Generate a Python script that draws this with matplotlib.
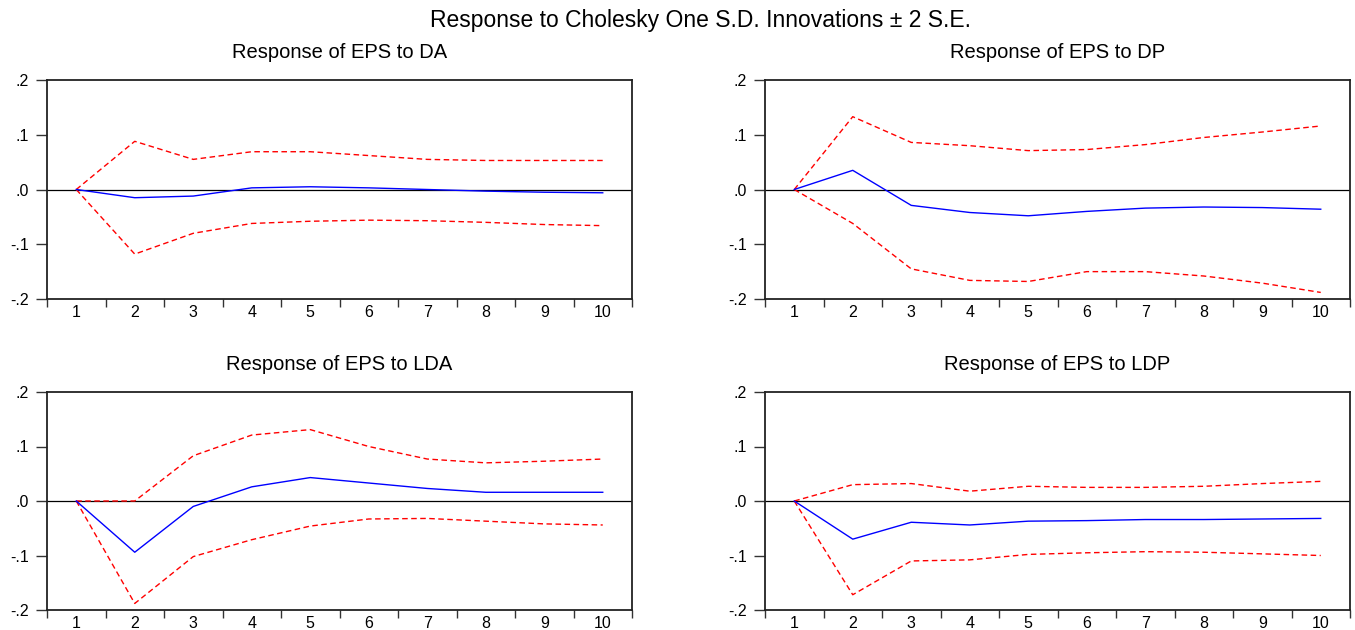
import matplotlib
matplotlib.use("Agg")
import matplotlib.pyplot as plt
import numpy as np

plt.rcParams['font.family'] = ['Liberation Sans', 'DejaVu Sans']

periods = [1, 2, 3, 4, 5, 6, 7, 8, 9, 10]

titles = ["Response of EPS to DA", "Response of EPS to DP",
          "Response of EPS to LDA", "Response of EPS to LDP"]

da_resp = [0.0, -0.015, -0.012, 0.003, 0.005, 0.003, 0.0, -0.003, -0.005, -0.006]
da_upper = [0.0, 0.088, 0.055, 0.069, 0.069, 0.062, 0.055, 0.053, 0.053, 0.053]
da_lower = [0.0, -0.118, -0.080, -0.062, -0.058, -0.056, -0.057, -0.060, -0.064, -0.066]

dp_resp = [0.0, 0.035, -0.029, -0.042, -0.048, -0.040, -0.034, -0.032, -0.033, -0.036]
dp_upper = [0.0, 0.133, 0.086, 0.080, 0.071, 0.073, 0.082, 0.095, 0.105, 0.116]
dp_lower = [0.0, -0.062, -0.145, -0.166, -0.168, -0.150, -0.150, -0.158, -0.171, -0.188]

lda_resp = [0.0, -0.094, -0.010, 0.026, 0.043, 0.033, 0.023, 0.016, 0.016, 0.016]
lda_upper = [0.0, 0.0, 0.083, 0.121, 0.131, 0.100, 0.077, 0.070, 0.073, 0.077]
lda_lower = [0.0, -0.188, -0.102, -0.071, -0.046, -0.033, -0.032, -0.037, -0.042, -0.044]

ldp_resp = [0.0, -0.070, -0.039, -0.044, -0.037, -0.036, -0.034, -0.034, -0.033, -0.032]
ldp_upper = [0.0, 0.030, 0.032, 0.018, 0.027, 0.025, 0.025, 0.027, 0.032, 0.036]
ldp_lower = [0.0, -0.172, -0.110, -0.108, -0.098, -0.095, -0.093, -0.094, -0.097, -0.100]

panels = [(da_resp, da_upper, da_lower), (dp_resp, dp_upper, dp_lower),
          (lda_resp, lda_upper, lda_lower), (ldp_resp, ldp_upper, ldp_lower)]

yticks = [-0.2, -0.1, 0.0, 0.1, 0.2]
yticklabels = ["-.2", "-.1", ".0", ".1", ".2"]

W, H = 1355, 630
fig = plt.figure(figsize=(W / 100, H / 100), dpi=100)

# axes boxes in pixels: (left, top, right, bottom)
boxes = [(47, 80, 632, 299), (765, 80, 1350, 299),
         (47, 392, 632, 610), (765, 392, 1350, 610)]

for (l, t, r, b), title, (resp, up, lo) in zip(boxes, titles, panels):
    ax = fig.add_axes([l / W, 1 - b / H, (r - l) / W, (b - t) / H])
    ax.axhline(0, color='black', lw=0.9, zorder=1)
    ax.plot(periods, resp, color='#0000ff', lw=1.0, zorder=3)
    ax.plot(periods, up, color='#ff0000', lw=1.0, ls=(0, (4, 2.5)), zorder=2)
    ax.plot(periods, lo, color='#ff0000', lw=1.0, ls=(0, (4, 2.5)), zorder=2)
    ax.set_xlim(0.5, 10.5)
    ax.set_ylim(-0.2, 0.2)
    ax.set_xticks(periods)
    ax.set_xticklabels([str(p) for p in periods])
    ax.set_xticks(np.arange(0.5, 11, 1.0), minor=True)
    ax.tick_params(axis='x', which='major', length=0, pad=4, labelsize=11.5)
    ax.tick_params(axis='x', which='minor', length=6, width=1.0, direction='out', color='#333333')
    ax.set_yticks(yticks)
    ax.set_yticklabels(yticklabels)
    ax.tick_params(axis='y', which='major', length=8, width=1.0, direction='out',
                   pad=5, labelsize=11.5, color='#333333')
    for s in ax.spines.values():
        s.set_linewidth(1.3)
        s.set_color('#222222')
    ax.text(0.5, 1 + 22 / (b - t), title, transform=ax.transAxes,
            ha='center', va='baseline', fontsize=14.5)

fig.text(700 / W, 1 - 27 / H, "Response to Cholesky One S.D. Innovations \u00b1 2 S.E.",
         ha='center', va='baseline', fontsize=16.5)

fig.savefig("out.png", dpi=100)
